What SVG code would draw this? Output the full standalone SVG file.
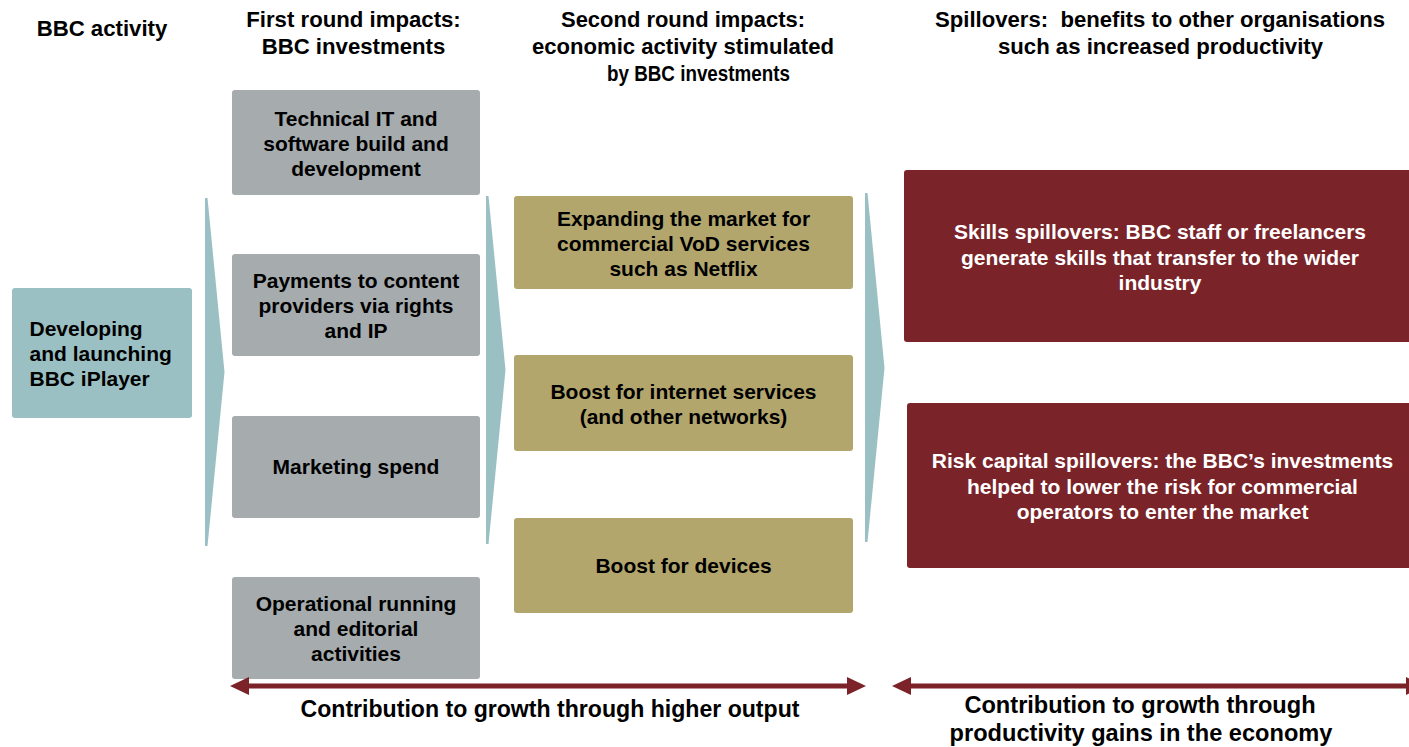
<svg xmlns="http://www.w3.org/2000/svg" width="1409" height="747" viewBox="0 0 1409 747">
<defs>
<style>
text{font-family:"Liberation Sans",Arial,Helvetica,sans-serif;font-weight:bold;fill:#000;}
.hd{font-size:22.2px;text-anchor:middle;}
.hn{font-family:"Liberation Sans Narrow","Liberation Sans",Arial,sans-serif;font-size:22px;text-anchor:middle;}
.bx{font-size:21px;text-anchor:middle;}
.wt{font-size:21px;text-anchor:middle;fill:#fff;}
.ft{font-size:23.1px;text-anchor:middle;}
.ft2{font-size:23.6px;text-anchor:middle;}
.teal{fill:#9bc0c3;}
.grey{fill:#a6abae;}
.gold{fill:#b3a66d;}
.maroon{fill:#7a2329;}
.chev{fill:#9bc0c3;}
.arr{stroke:#7b2329;stroke-width:5;fill:none;marker-start:url(#ah);marker-end:url(#ah);}
</style>
<marker id="ah" markerUnits="userSpaceOnUse" markerWidth="19" markerHeight="18" viewBox="0 0 19 18" refX="0" refY="9" orient="auto-start-reverse">
<path d="M0,0 L19,9 L0,18 z" fill="#7b2329"/>
</marker>
</defs>
<rect width="1409" height="747" fill="#fff"/>

<g id="headers">
<text class="hd" x="102" y="35.5">BBC activity</text>
<text class="hd" x="353.5" y="26.5">First round impacts:</text>
<text class="hd" x="353.5" y="53.5">BBC investments</text>
<text class="hn" x="683" y="26.5" textLength="244" lengthAdjust="spacingAndGlyphs">Second round impacts:</text>
<text class="hn" x="683" y="53.5" textLength="302" lengthAdjust="spacingAndGlyphs">economic activity stimulated</text>
<text class="hn" x="698.5" y="80.5" textLength="183" lengthAdjust="spacingAndGlyphs">by BBC investments</text>
<text class="hn" x="1160" y="26.5" textLength="450" lengthAdjust="spacingAndGlyphs" xml:space="preserve">Spillovers:  benefits to other organisations</text>
<text class="hn" x="1160.5" y="53.5" textLength="325" lengthAdjust="spacingAndGlyphs">such as increased productivity</text>
</g>

<g id="chevrons">
<polygon class="chev" points="205,198 207.5,198 224.5,372 207.5,546 205,546"/>
<polygon class="chev" points="486,196 488.5,196 505.5,370 488.5,544 486,544"/>
<polygon class="chev" points="865,193 867.5,193 884.5,368 867.5,542 865,542"/>
</g>

<g id="node-iplayer">
<rect class="teal" x="12" y="288" width="180" height="130" rx="3"/>
<text class="bx" style="text-anchor:start" x="29.5" y="336">Developing</text>
<text class="bx" style="text-anchor:start" x="29.5" y="361">and launching</text>
<text class="bx" style="text-anchor:start" x="29.5" y="386">BBC iPlayer</text>
</g>

<g id="node-technical">
<rect class="grey" x="232" y="90" width="248" height="105" rx="3"/>
<text class="bx" x="356" y="125.5">Technical IT and</text>
<text class="bx" x="356" y="151">software build and</text>
<text class="bx" x="356" y="176">development</text>
</g>
<g id="node-payments">
<rect class="grey" x="232" y="254" width="248" height="102" rx="3"/>
<text class="bx" x="356" y="288">Payments to content</text>
<text class="bx" x="356" y="313">providers via rights</text>
<text class="bx" x="356" y="338">and IP</text>
</g>
<g id="node-marketing">
<rect class="grey" x="232" y="416" width="248" height="102" rx="3"/>
<text class="bx" x="356" y="474">Marketing spend</text>
</g>
<g id="node-operational">
<rect class="grey" x="232" y="577" width="248" height="102" rx="3"/>
<text class="bx" x="356" y="611">Operational running</text>
<text class="bx" x="356" y="636">and editorial</text>
<text class="bx" x="356" y="661">activities</text>
</g>

<g id="node-vod">
<rect class="gold" x="514" y="196" width="339" height="93" rx="3"/>
<text class="bx" x="683.5" y="226">Expanding the market for</text>
<text class="bx" x="683.5" y="251">commercial VoD services</text>
<text class="bx" x="683.5" y="275.5">such as Netflix</text>
</g>
<g id="node-internet">
<rect class="gold" x="514" y="355" width="339" height="96" rx="3"/>
<text class="bx" x="683.5" y="399">Boost for internet services</text>
<text class="bx" x="683.5" y="424">(and other networks)</text>
</g>
<g id="node-devices">
<rect class="gold" x="514" y="518" width="339" height="95" rx="3"/>
<text class="bx" x="683.5" y="573">Boost for devices</text>
</g>

<g id="node-skills">
<rect class="maroon" x="904" y="170" width="514" height="172" rx="3"/>
<text class="wt" x="1160" y="239">Skills spillovers: BBC staff or freelancers</text>
<text class="wt" x="1160" y="264.5">generate skills that transfer to the wider</text>
<text class="wt" x="1160" y="290">industry</text>
</g>
<g id="node-risk">
<rect class="maroon" x="907" y="403" width="511" height="165" rx="3"/>
<text class="wt" x="1162.5" y="468">Risk capital spillovers: the BBC’s investments</text>
<text class="wt" x="1162.5" y="493.5">helped to lower the risk for commercial</text>
<text class="wt" x="1162.5" y="519">operators to enter the market</text>
</g>

<g id="connectors">
<line class="arr" x1="249" y1="686" x2="847" y2="686"/>
<line class="arr" x1="911" y1="686" x2="1406" y2="686"/>
</g>

<g id="footer">
<text class="ft" x="550" y="717">Contribution to growth through higher output</text>
<text class="ft2" x="1140" y="713">Contribution to growth through</text>
<text class="ft2" x="1141" y="741">productivity gains in the economy</text>
</g>
</svg>
